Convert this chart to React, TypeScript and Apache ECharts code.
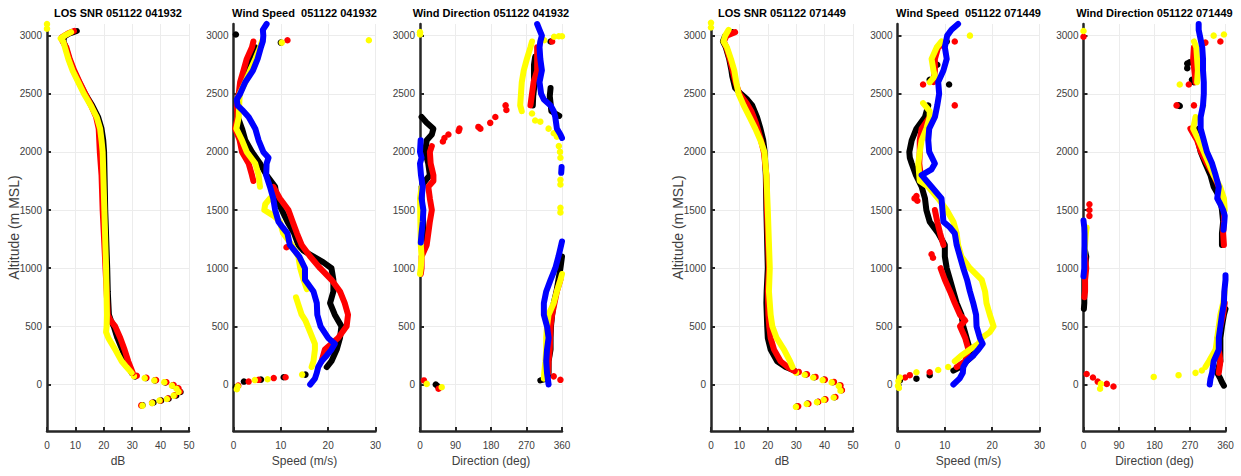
import React, { useEffect, useRef } from "react";
import * as echarts from "echarts";

type Pt = [number, number];

const BLACK = "#000000";
const RED = "#ff0000";
const YELLOW = "#ffff00";
const BLUE = "#0000ff";

const Y_TICKS = [0, 500, 1000, 1500, 2000, 2500, 3000];
const Y_MIN = -400;
const Y_MAX = 3100;

const TITLES = [
  "LOS SNR 051122 041932",
  "Wind Speed  051122 041932",
  "Wind Direction 051122 041932",
  "LOS SNR 051122 071449",
  "Wind Speed  051122 071449",
  "Wind Direction 051122 071449",
];
const X_NAMES = ["dB", "Speed (m/s)", "Direction (deg)", "dB", "Speed (m/s)", "Direction (deg)"];
const X_MAX = [50, 30, 360, 50, 30, 360];
const X_STEP = [10, 10, 90, 10, 10, 90];
const Y_NAME = "Altitude (m MSL)";

// ---------- Panel 1: LOS SNR 041932 ----------
const SNR1_BLACK: Pt[] = [[10.5,3040],[8,3020],[6,2990],[5.8,2950],[6.6,2900],[7.8,2800],[9.3,2700],[11.3,2600],[13.4,2500],[15.9,2400],[18,2300],[19.2,2200],[19.8,2100],[20.1,2000],[20.5,1500],[21.2,1000],[21.4,800],[21.6,700],[21.8,600],[22.5,550],[23.5,500],[24.8,400],[26.5,300],[28,200],[29.8,100]];
const SNR1_RED: Pt[] = [[9.5,3040],[7.5,3020],[5.2,2985],[5.5,2950],[6.8,2900],[8,2800],[9.6,2700],[11.5,2600],[13.5,2500],[15.5,2400],[17.3,2300],[18.2,2200],[18.4,2100],[18.6,2000],[19.2,1800],[19.6,1500],[20.2,1200],[20.6,1000],[21,800],[21.4,600],[22.4,550],[24,500],[25.8,400],[27.3,300],[28.6,200],[30.2,100]];
const SNR1_YELLOW: Pt[] = [[8.5,3030],[6.5,3005],[4.8,2975],[5.7,2950],[6.3,2900],[7.5,2800],[9,2700],[11,2600],[13,2500],[15.4,2400],[17.5,2300],[18.7,2200],[19.2,2100],[19.6,2000],[20.2,1500],[20.8,1000],[21.1,600],[21,500],[20.8,450],[21.6,400],[24,300],[26.3,200],[28,150],[29.8,100]];
const SNR1_BLACK_DOTS: Pt[] = [[31,70],[34.8,55],[38,35],[41.6,18],[44.3,-8],[46,-35],[47,-65],[45.5,-95],[42.8,-122],[40.2,-138],[37.5,-155],[33.6,-178]];
const SNR1_RED_DOTS: Pt[] = [[31.6,75],[35,58],[38.4,38],[42,20],[44.6,-5],[46.3,-32],[46.8,-60],[45,-92],[42.5,-120],[39.8,-140],[37,-158],[33.2,-180]];
const SNR1_YELLOW_DOTS: Pt[] = [[0,3060],[0,3100],[30.6,72],[34.4,55],[37.8,35],[41.3,20],[44,-10],[45.6,-37],[46.3,-63],[44.6,-96],[42.2,-125],[39.6,-138],[37,-160],[33.6,-182]];

// ---------- Panel 2: Wind speed 041932 ----------
const WS1_BLACK: Pt[] = [[4.6,2900],[3.5,2800],[2.8,2700],[2.1,2600],[1.3,2500],[0.7,2400],[0.9,2300],[1.8,2200],[2.5,2100],[3.9,2000],[5.6,1900],[7,1800],[8.8,1700],[9.1,1600],[10.2,1500],[11.4,1400],[12.8,1300],[13.7,1200],[14.8,1150],[16.9,1100],[19,1050],[20.7,1000],[21.1,900],[21.1,800],[20.4,700],[21.4,600],[22.8,500],[22.5,400],[21.8,300],[20.7,200],[19.7,150]];
const WS1_BLACK_DOTS: Pt[] = [[0.5,3010],[10,2940],[15.2,85],[10.6,62],[5.8,42],[2.2,25],[0.5,-25]];
const WS1_RED_A: Pt[] = [[4.2,2950],[3.9,2900],[2.8,2800],[2.1,2700],[1.4,2600],[1.1,2500],[0.7,2400],[0.85,2300],[0.35,2200],[1.3,2100],[1.8,2000],[3.2,1900],[3.9,1800],[4.2,1750]];
const WS1_RED_B: Pt[] = [[8.4,1700],[9.8,1600],[11.6,1500],[12.5,1400],[13.4,1300],[14.4,1200],[16.2,1100],[18.3,1000],[20.7,900],[22.5,800],[23.5,700],[24.2,600],[23.9,500],[22.1,400],[20.7,350],[19.3,300],[18.6,200]];
const WS1_RED_DOTS: Pt[] = [[11.4,2960],[11.2,1180],[1,-10],[3.2,25],[5.3,40],[8.5,55],[11,62]];
const WS1_YELLOW_A: Pt[] = [[6,2950],[5.6,2900],[4.6,2800],[3.5,2700],[2.5,2600],[1.3,2500],[1.1,2300],[0.6,2200],[1.8,2100],[2.8,2000],[4.6,1900],[5.3,1800],[5.6,1700]];
const WS1_YELLOW_B: Pt[] = [[7.7,1600],[6.7,1550],[6.5,1500],[8.5,1450],[9.8,1400],[10.5,1300],[12.3,1200],[13.7,1100],[14.1,1000],[14.8,900],[15.5,820]];
const WS1_YELLOW_C: Pt[] = [[13.2,750],[13.6,700],[14.4,600],[15.2,550],[16.2,450],[17.2,350],[17.2,300],[16.9,200],[16.5,150]];
const WS1_YELLOW_DOTS: Pt[] = [[10.2,2940],[28.6,2960],[14.5,85],[7.2,45],[4.5,38],[0.9,-15],[0.7,-40]];
const WS1_BLUE: Pt[] = [[7,3100],[6.2,3050],[6.3,3000],[6.2,2950],[5.8,2900],[5.1,2800],[4.1,2700],[2.5,2600],[1.4,2500],[0.7,2450],[0.85,2400],[2.1,2350],[3.2,2300],[4.6,2200],[5.3,2100],[6.3,2000],[7.4,1950],[7,1900],[6.9,1800],[7.7,1700],[8.4,1600],[8.8,1500],[9.5,1400],[10.4,1350],[11.4,1300],[11.9,1200],[13.9,1100],[15.1,1000],[15.1,900],[16.9,800],[17.6,700],[17.7,600],[18.4,500],[20,400],[21.4,350],[20.7,300],[19.7,250],[18.6,200],[17.9,150],[17.6,100],[17.2,50],[16.2,0]];

// ---------- Panel 3: Wind direction 041932 ----------
const WD1_BLACK_A: Pt[] = [[292,2820],[289,2750],[289,2650],[290,2570],[287,2480],[286,2400]];
const WD1_BLACK_B: Pt[] = [[331,2550],[329,2480],[331,2420],[333,2350],[353,2310]];
const WD1_BLACK_C: Pt[] = [[4,2300],[17,2250],[34,2200],[30,2150],[17,2100],[13,2000],[21,1900],[25,1800],[13,1750],[4,1700],[4,1600],[6,1500],[10,1300],[8,1250]];
const WD1_BLACK_D: Pt[] = [[360,1100],[356,1000],[351,900],[346,800],[339,700],[335,600],[332,500],[331,400],[331,300],[326,200],[326,100],[322,50],[305,35]];
const WD1_BLACK_DOTS: Pt[] = [[331,2950],[40,0],[45,-15]];
const WD1_RED_A: Pt[] = [[297,2900],[297,2800],[297,2700],[288,2600],[284,2500],[280,2400]];
const WD1_RED_B: Pt[] = [[30,2050],[25,2000],[27,1900],[34,1800],[34,1750],[21,1700],[25,1600],[30,1500],[25,1400],[21,1300],[17,1200],[4,1100],[4,1000],[2,950]];
const WD1_RED_C: Pt[] = [[356,900],[347,800],[341,700],[335,600],[331,500],[329,300],[326,200],[325,100]];
const WD1_RED_DOTS: Pt[] = [[335,2950],[217,2400],[219,2360],[191,2300],[178,2250],[153,2200],[148,2215],[100,2200],[98,2180],[72,2150],[62,2120],[58,2090],[339,70],[356,40],[10,35],[47,-37]];
const WD1_YELLOW_A: Pt[] = [[284,2950],[280,2900],[271,2800],[263,2700],[258,2600],[256,2500],[254,2400],[258,2350]];
const WD1_YELLOW_B: Pt[] = [[4,1700],[2,1650],[0,1600],[1,1400],[2,1200],[4,1100],[2,1000],[0,950]];
const WD1_YELLOW_C: Pt[] = [[360,950],[356,900],[347,800],[339,700],[326,600],[322,500],[320,400],[320,300],[318,200],[315,100],[314,50]];
const WD1_YELLOW_DOTS: Pt[] = [[0,3010],[0,3030],[315,2960],[340,2990],[352,2995],[360,2995],[284,2330],[292,2270],[305,2260],[326,2200],[339,2160],[347,2130],[352,2050],[355,2000],[356,1950],[356,1760],[356,1720],[356,1520],[356,1480],[17,5],[55,-23]];
const WD1_BLUE_A: Pt[] = [[297,3100],[303,3050],[309,3000],[305,2950],[303,2900],[305,2800],[309,2700],[303,2600],[307,2500],[314,2450],[331,2400],[339,2350],[343,2300],[347,2200],[356,2150],[360,2120]];
const WD1_BLUE_B: Pt[] = [[1.7,2100],[0,2000],[4,1950],[0,1900],[2.5,1800],[7,1700],[4,1600],[8.5,1500],[7,1400],[4,1300],[2,1220]];
const WD1_BLUE_C: Pt[] = [[359,1870],[358,1820]];
const WD1_BLUE_D: Pt[] = [[360,1230],[358,1200],[351,1100],[343,1000],[331,900],[320,800],[314,700],[314,600],[322,500],[326,400],[322,300],[320,200],[322,100],[326,0]];

// ---------- Panel 4: LOS SNR 071449 ----------
const SNR2_BLACK: Pt[] = [[7.5,3030],[5,3000],[4.2,2950],[5.2,2900],[6.4,2800],[7.2,2700],[7.5,2650],[8.5,2550],[10.5,2500],[12.8,2450],[14.5,2400],[16.2,2300],[17.4,2200],[18.4,2100],[18.9,2000],[19.3,1800],[19.5,1500],[20,1000],[19.6,800],[19.5,700],[19.8,500],[20,400],[21,300],[23.3,200],[26.3,150],[29.3,120]];
const SNR2_RED: Pt[] = [[8.5,3030],[5.5,3000],[4.5,2950],[5.4,2900],[6.6,2800],[7.6,2700],[8.6,2600],[10,2500],[12.5,2420],[14.2,2350],[15.8,2250],[17.6,2100],[18.6,2000],[19.5,1800],[19.7,1500],[20.4,1000],[20,800],[20.2,600],[20.5,500],[21,400],[22.2,300],[24.5,200],[27,150],[29.5,115]];
const SNR2_YELLOW: Pt[] = [[6.2,3050],[5,3000],[4.4,2950],[5.6,2900],[7,2800],[8.2,2700],[8.9,2600],[9.7,2500],[11.5,2400],[13.6,2300],[15.6,2200],[17.4,2100],[18.8,2000],[19.5,1800],[20,1500],[20.7,1000],[20.4,800],[21,600],[21.6,500],[23.1,400],[25.7,300],[27.8,200],[28.7,150]];
const SNR2_BLACK_DOTS: Pt[] = [[30.5,105],[33.4,86],[36.4,63],[39.7,40],[42.9,20],[45.3,-10],[45.9,-50],[43.5,-110],[40,-130],[37.6,-150],[34,-165],[30.2,-190]];
const SNR2_RED_DOTS: Pt[] = [[30.9,108],[33.8,88],[36.8,65],[40.1,42],[43.3,22],[45.6,-8],[46.1,-48],[43.8,-108],[40.3,-128],[37.8,-148],[34.3,-166],[30.7,-188]];
const SNR2_YELLOW_DOTS: Pt[] = [[0,3070],[0,3110],[30,102],[33,84],[36,60],[39.3,38],[42.5,18],[45,-12],[45.6,-53],[43.2,-112],[39.7,-132],[37.3,-152],[33.7,-168],[29.9,-192]];

// ---------- Panel 5: Wind speed 071449 ----------
const WS2_BLACK: Pt[] = [[6.5,2400],[5.8,2300],[4,2200],[3,2100],[2.5,2000],[2.6,1950],[3,1900],[3.9,1800],[5.1,1700],[5.8,1600],[6.1,1500],[6.8,1400],[8.6,1300],[10,1200],[10,1100],[10.4,1000],[11.1,900],[11.8,800],[12.5,700],[13.5,600],[13.9,500],[14.6,400],[15.3,300],[16,250],[14.6,200],[13.2,150],[11.8,120]];
const WS2_BLACK_DOTS: Pt[] = [[10.4,2950],[8.4,2750],[6.8,2620],[10.9,2580],[6.8,80],[4,50],[0.5,35]];
const WS2_RED_A: Pt[] = [[9.7,2930],[8.6,2900],[7.9,2800],[7.9,2700],[7.6,2600]];
const WS2_RED_B: Pt[] = [[6.8,2300],[5.1,2200],[4.7,2100],[4.7,2000],[4.6,1900],[4.9,1800]];
const WS2_RED_C: Pt[] = [[7.9,1500],[8.4,1400],[9,1300],[9.7,1200]];
const WS2_RED_D: Pt[] = [[9.1,1000],[10,900],[11.1,800],[12.1,700],[13.2,600],[14.3,550],[13.2,500],[14.3,400],[15,300],[14.3,200],[12.5,150]];
const WS2_RED_DOTS: Pt[] = [[12.1,2950],[5.4,2580],[12.1,2400],[4,1620],[4.2,1580],[3.6,1600],[7.2,1120],[7.5,1090],[6.8,105],[2.6,80],[1.6,60]];
const WS2_YELLOW_A: Pt[] = [[9.3,2950],[8.3,2900],[7.2,2800],[7.6,2700],[7.9,2650],[6.8,2600]];
const WS2_YELLOW_B: Pt[] = [[5.4,2420],[6.8,2350],[6.8,2300],[6.1,2200],[5.1,2100],[4.7,2000],[4.4,1900],[4.6,1800],[4.7,1750],[6.5,1700],[8.6,1600],[10.4,1500],[11.8,1400],[12.5,1300],[12.8,1200],[13.5,1100],[15.3,1000],[17.8,900],[18.5,800],[18.8,700],[19.5,600],[20.3,500],[19.5,450],[17.8,400],[17.1,350],[15.3,300],[13.5,250],[12.1,200]];
const WS2_YELLOW_DOTS: Pt[] = [[15.3,3000],[10.7,150],[8.6,125],[4,105],[0.5,60],[0.2,30],[0.1,-10],[0.3,-30]];
const WS2_BLUE: Pt[] = [[12.8,3100],[11.4,3050],[10.5,3000],[10,2900],[10.4,2800],[9.7,2700],[8.6,2600],[8.8,2500],[8.4,2400],[7.9,2300],[6.7,2200],[6.5,2100],[6.7,2000],[7.9,1900],[7.2,1850],[5.1,1800],[7.2,1700],[9.3,1600],[9.5,1500],[9.7,1400],[11.1,1350],[12.1,1300],[12.5,1200],[13.2,1100],[13.9,1000],[14.7,900],[15.3,800],[16,700],[16.6,600],[16.7,500],[17.4,400],[18,350],[17.1,300],[16,250],[14.6,200],[13.9,150],[13.8,100],[13.1,50],[11.8,0]];

// ---------- Panel 6: Wind direction 071449 ----------
const WD2_BLACK_A: Pt[] = [[292,2200],[290,2100],[297,2000],[309,1900],[322,1800],[330,1700],[347,1600],[351,1500],[354,1400],[351,1300],[351,1200]];
const WD2_BLACK_B: Pt[] = [[4,1150],[7,1100],[4,1000],[2,900],[2,800],[2,700],[1,650]];
const WD2_BLACK_C: Pt[] = [[360,650],[356,600],[351,500],[347,400],[347,300],[347,200],[339,100],[347,50],[351,20],[356,-10]];
const WD2_BLACK_DOTS: Pt[] = [[263,2760],[263,2720],[269,2770],[275,2620],[280,2600],[241,2400],[244,2395]];
const WD2_RED_A: Pt[] = [[280,2900],[278,2800],[281,2700],[284,2600]];
const WD2_RED_B: Pt[] = [[271,2200],[288,2100],[298,2000],[313,1900],[330,1800],[343,1700],[351,1600],[356,1500],[356,1400],[354,1300],[356,1200]];
const WD2_RED_C: Pt[] = [[4,1100],[7,1000],[4,900],[4,800],[2,750]];
const WD2_RED_D: Pt[] = [[358,700],[354,600],[347,500],[340,400],[343,300],[347,200],[343,100]];
const WD2_RED_DOTS: Pt[] = [[0,2990],[347,2950],[309,2940],[267,2580],[236,2400],[280,2400],[15,1550],[15,1500],[15,1450],[8,90],[24,60],[36,25],[59,5],[76,-17]];
const WD2_YELLOW_A: Pt[] = [[280,2950],[286,2900],[288,2800],[290,2700],[288,2600]];
const WD2_YELLOW_B: Pt[] = [[284,2300],[278,2200],[292,2100],[305,2000],[318,1900],[330,1800],[346,1700],[356,1600],[358,1500]];
const WD2_YELLOW_C: Pt[] = [[8,1350],[6,1300],[4,1200],[2,1100]];
const WD2_YELLOW_D: Pt[] = [[358,800],[354,700],[347,600],[343,500],[339,400],[335,300],[318,200],[309,150]];
const WD2_YELLOW_DOTS: Pt[] = [[0,3040],[330,3000],[356,3010],[244,2580],[303,2400],[300,120],[284,100],[241,80],[178,65],[44,5],[42,-37]];
const WD2_BLUE_A: Pt[] = [[292,3100],[292,3050],[295,3000],[301,2900],[303,2800],[303,2700],[305,2600],[305,2500],[303,2400],[297,2300],[297,2200],[305,2100],[313,2000],[326,1900],[335,1800],[343,1700],[339,1600],[347,1550],[354,1500],[358,1450],[357,1400],[355,1330]];
const WD2_BLUE_B: Pt[] = [[0,1410],[2,1350],[2.5,1300],[2.5,1200],[2,1100],[2,1000],[0,930]];
const WD2_BLUE_C: Pt[] = [[360,940],[360,900],[357,800],[356,700],[351,600],[347,500],[343,400],[343,300],[330,200],[326,100],[322,50],[320,0]];

type Layer = { color: string; lines: Pt[][]; dots: Pt[] };

const PANEL_LAYERS: Layer[][] = [
  [
    { color: BLACK, lines: [SNR1_BLACK], dots: SNR1_BLACK_DOTS },
    { color: RED, lines: [SNR1_RED], dots: SNR1_RED_DOTS },
    { color: YELLOW, lines: [SNR1_YELLOW], dots: SNR1_YELLOW_DOTS },
  ],
  [
    { color: BLACK, lines: [WS1_BLACK], dots: WS1_BLACK_DOTS },
    { color: RED, lines: [WS1_RED_A, WS1_RED_B], dots: WS1_RED_DOTS },
    { color: YELLOW, lines: [WS1_YELLOW_A, WS1_YELLOW_B, WS1_YELLOW_C], dots: WS1_YELLOW_DOTS },
    { color: BLUE, lines: [WS1_BLUE], dots: [] },
  ],
  [
    { color: BLACK, lines: [WD1_BLACK_A, WD1_BLACK_B, WD1_BLACK_C, WD1_BLACK_D], dots: WD1_BLACK_DOTS },
    { color: RED, lines: [WD1_RED_A, WD1_RED_B, WD1_RED_C], dots: WD1_RED_DOTS },
    { color: YELLOW, lines: [WD1_YELLOW_A, WD1_YELLOW_B, WD1_YELLOW_C], dots: WD1_YELLOW_DOTS },
    { color: BLUE, lines: [WD1_BLUE_A, WD1_BLUE_B, WD1_BLUE_C, WD1_BLUE_D], dots: [] },
  ],
  [
    { color: BLACK, lines: [SNR2_BLACK], dots: SNR2_BLACK_DOTS },
    { color: RED, lines: [SNR2_RED], dots: SNR2_RED_DOTS },
    { color: YELLOW, lines: [SNR2_YELLOW], dots: SNR2_YELLOW_DOTS },
  ],
  [
    { color: BLACK, lines: [WS2_BLACK], dots: WS2_BLACK_DOTS },
    { color: RED, lines: [WS2_RED_A, WS2_RED_B, WS2_RED_C, WS2_RED_D], dots: WS2_RED_DOTS },
    { color: YELLOW, lines: [WS2_YELLOW_A, WS2_YELLOW_B], dots: WS2_YELLOW_DOTS },
    { color: BLUE, lines: [WS2_BLUE], dots: [] },
  ],
  [
    { color: BLACK, lines: [WD2_BLACK_A, WD2_BLACK_B, WD2_BLACK_C], dots: WD2_BLACK_DOTS },
    { color: RED, lines: [WD2_RED_A, WD2_RED_B, WD2_RED_C, WD2_RED_D], dots: WD2_RED_DOTS },
    { color: YELLOW, lines: [WD2_YELLOW_A, WD2_YELLOW_B, WD2_YELLOW_C, WD2_YELLOW_D], dots: WD2_YELLOW_DOTS },
    { color: BLUE, lines: [WD2_BLUE_A, WD2_BLUE_B, WD2_BLUE_C], dots: [] },
  ],
];

// layout
const GRID_LEFTS = [47, 233.5, 420, 711, 897.5, 1083.5];
const GRID_W = 142;
const GRID_TOP = 24;
const GRID_H = 407;
const FONT = "'Liberation Sans', Arial, Helvetica, sans-serif";
const AXIS_COLOR = "#262626";
const LABEL_COLOR = "#404040";

function buildOption(): any {
  const grid: any[] = [];
  const xAxis: any[] = [];
  const yAxis: any[] = [];
  const series: any[] = [];
  const graphic: any[] = [];

  PANEL_LAYERS.forEach((layers, i) => {
    grid.push({ left: GRID_LEFTS[i], top: GRID_TOP, width: GRID_W, height: GRID_H, containLabel: false });
    xAxis.push({
      type: "value",
      gridIndex: i,
      min: 0,
      max: X_MAX[i],
      interval: X_STEP[i],
      position: "bottom",
      name: X_NAMES[i],
      nameLocation: "middle",
      nameGap: 24,
      nameTextStyle: { color: LABEL_COLOR, fontSize: 12, fontFamily: FONT },
      axisLine: { show: true, onZero: false, lineStyle: { color: AXIS_COLOR, width: 2.5 } },
      axisTick: { show: true, inside: true, length: 4, lineStyle: { color: AXIS_COLOR, width: 2 } },
      axisLabel: { color: LABEL_COLOR, fontSize: 10, fontFamily: FONT, margin: 9, formatter: (v: number) => String(v) },
      splitLine: { show: true, lineStyle: { color: "#ececec", width: 1 } },
    });
    yAxis.push({
      type: "value",
      gridIndex: i,
      min: Y_MIN,
      max: Y_MAX,
      name: i === 0 || i === 3 ? Y_NAME : "",
      nameLocation: "middle",
      nameGap: 26,
      nameMoveOverlap: false,
      nameRotate: 90,
      nameTextStyle: { color: LABEL_COLOR, fontSize: 14, fontFamily: FONT },
      axisLine: { show: true, onZero: false, lineStyle: { color: AXIS_COLOR, width: 2.5 } },
      axisTick: { show: true, inside: true, length: 4, customValues: Y_TICKS, lineStyle: { color: AXIS_COLOR, width: 2 } },
      axisLabel: {
        color: LABEL_COLOR,
        fontSize: 10,
        fontFamily: FONT,
        margin: 5,
        customValues: Y_TICKS,
        formatter: (v: number) => String(v),
      },
      splitLine: { show: true, lineStyle: { color: "#ececec", width: 1 } },
    });
    graphic.push({
      type: "text",
      x: GRID_LEFTS[i] + GRID_W / 2,
      y: 13,
      style: {
        text: TITLES[i],
        fill: "#000000",
        font: `bold 11px ${FONT}`,
        textAlign: "center",
        textVerticalAlign: "middle",
        align: "center",
        verticalAlign: "middle",
      },
    });
    layers.forEach((layer) => {
      layer.lines.forEach((seg) => {
        series.push({
          type: "line",
          xAxisIndex: i,
          yAxisIndex: i,
          data: seg,
          showSymbol: false,
          symbol: "none",
          clip: false,
          silent: true,
          lineStyle: { color: layer.color, width: 6, cap: "round", join: "round", opacity: 1 },
        });
      });
      if (layer.dots.length) {
        series.push({
          type: "scatter",
          xAxisIndex: i,
          yAxisIndex: i,
          data: layer.dots,
          symbol: "circle",
          symbolSize: 6.5,
          clip: false,
          silent: true,
          itemStyle: { color: layer.color, opacity: 1 },
        });
      }
    });
  });

  return {
    animation: false,
    backgroundColor: "#ffffff",
    grid,
    xAxis,
    yAxis,
    series,
    graphic,
  };
}

export default function App() {
  const ref = useRef<HTMLDivElement>(null);
  useEffect(() => {
    if (!ref.current) return;
    const chart = echarts.init(ref.current, undefined, { renderer: "svg" });
    chart.setOption(buildOption());
    return () => chart.dispose();
  }, []);
  return (
    <div
      ref={ref}
      style={{ position: "fixed", left: 0, top: 0, width: 1241, height: 476, background: "#fff" }}
    />
  );
}
